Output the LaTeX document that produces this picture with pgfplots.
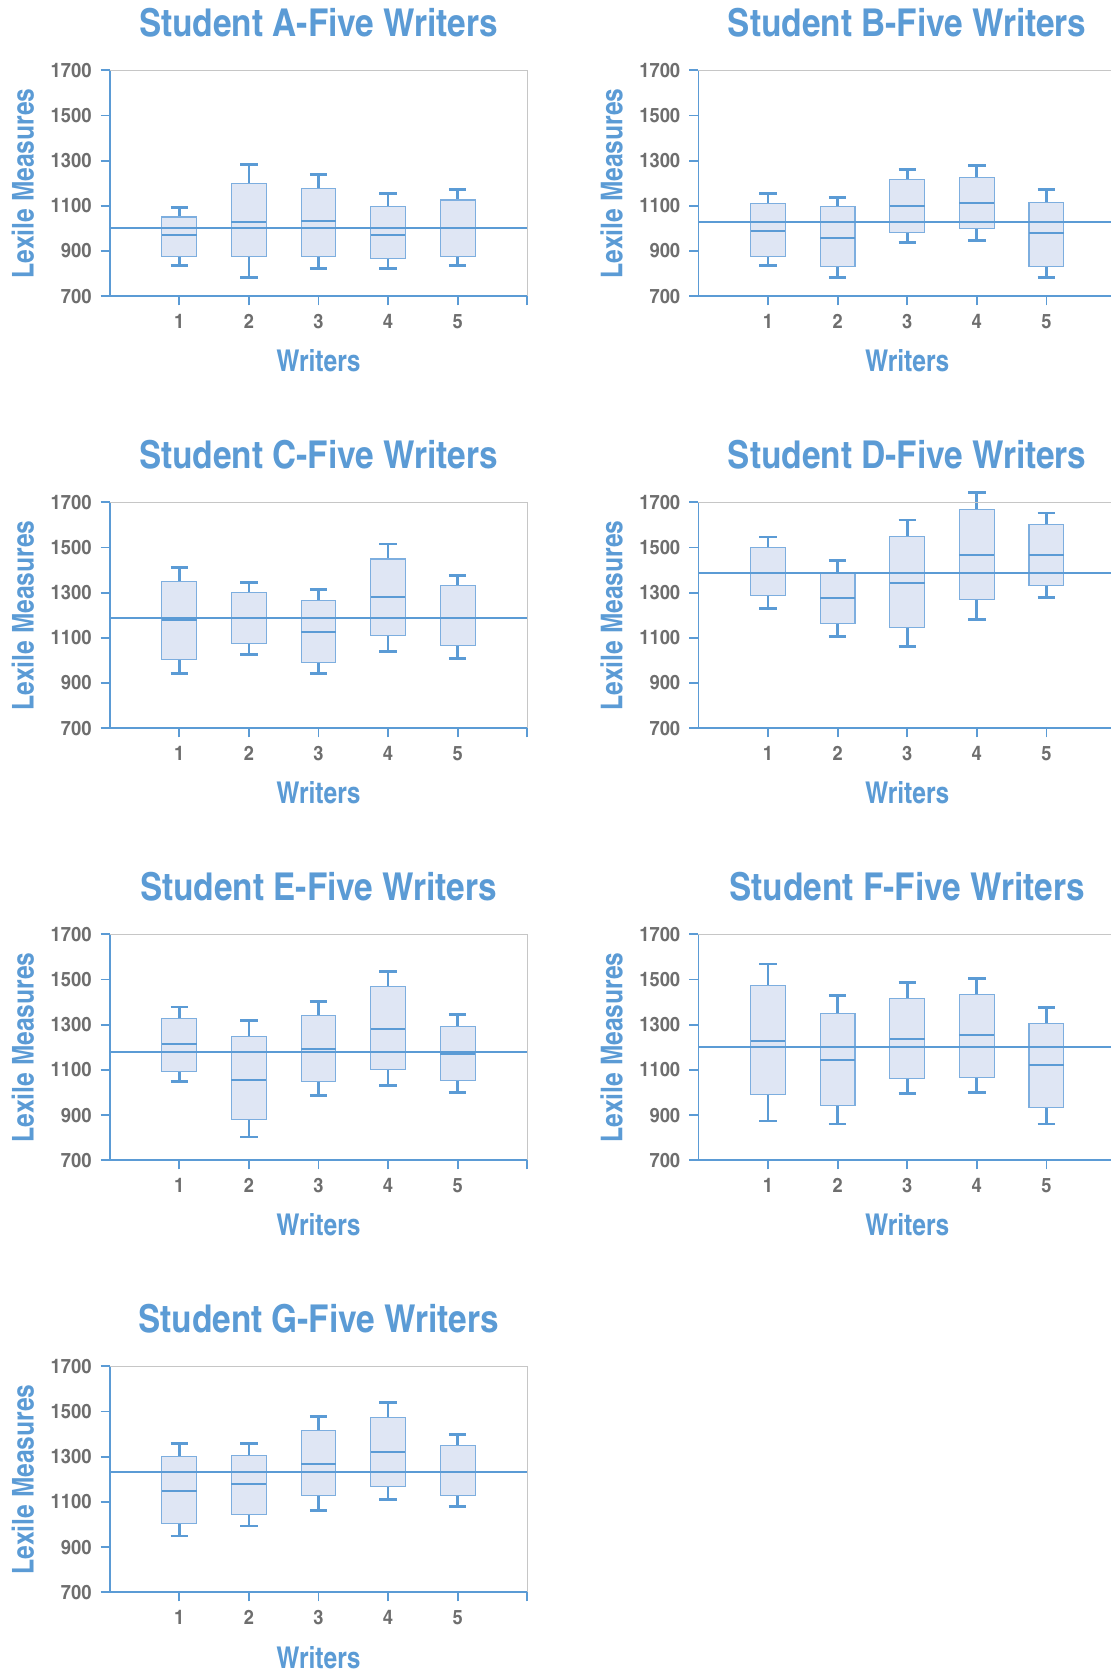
\documentclass[border=0pt]{standalone}
\usepackage{pgfplots}
\pgfplotsset{compat=1.18}
\usepackage{pgfplotstable}
\usepackage{fontspec}
\setmainfont{texgyreheroscn}[Extension=.otf, UprightFont=*-regular, BoldFont=*-bold, ItalicFont=*-italic, BoldItalicFont=*-bolditalic]
\newfontfamily\titlefont{texgyreheroscn}[Extension=.otf, UprightFont=*-bold, FakeStretch=1.06]
\newfontfamily\tickfont{texgyreheroscn}[Extension=.otf, UprightFont=*-bold, FakeStretch=1.12]
\newfontfamily\labelfont{texgyreheroscn}[Extension=.otf, UprightFont=*-bold]

\definecolor{cblue}{HTML}{5B9BD5}
\definecolor{cedge}{HTML}{7DAEDF}
\definecolor{cfill}{HTML}{DFE6F4}
\definecolor{cgray}{HTML}{6E6E6E}
\definecolor{cframe}{HTML}{C6C6C6}

% columns: lower whisker, lower quartile, median, upper quartile, upper whisker
\pgfplotstableread{
lw lq med uq uw
836 878 973 1051 1092
783 878 1030 1200 1284
822 878 1032 1175 1240
822 867 973 1097 1156
836 878 1001 1126 1172
}\tA
\pgfplotstableread{
lw lq med uq uw
836 878 989 1109 1154
783 830 960 1097 1137
937 982 1098 1215 1260
946 1001 1111 1227 1278
783 830 982 1113 1172
}\tB
\pgfplotstableread{
lw lq med uq uw
943 1006 1178 1350 1412
1026 1076 1188 1299 1344
943 990 1128 1266 1313
1041 1110 1281 1449 1516
1009 1066 1188 1331 1376
}\tC
\pgfplotstableread{
lw lq med uq uw
1229 1287 1387 1499 1547
1106 1162 1276 1388 1441
1062 1146 1341 1549 1622
1181 1268 1468 1669 1743
1278 1332 1468 1601 1653
}\tD
\pgfplotstableread{
lw lq med uq uw
1050 1094 1213 1326 1378
803 882 1057 1247 1319
988 1050 1194 1341 1403
1032 1100 1279 1468 1535
1001 1054 1171 1293 1346
}\tE
\pgfplotstableread{
lw lq med uq uw
874 991 1228 1472 1569
860 943 1144 1349 1429
997 1063 1238 1416 1487
1001 1068 1256 1432 1504
860 932 1121 1306 1376
}\tF
\pgfplotstableread{
lw lq med uq uw
949 1003 1147 1300 1359
993 1043 1179 1304 1357
1063 1129 1269 1415 1478
1112 1169 1319 1474 1540
1081 1129 1232 1350 1399
}\tG

\pgfplotsset{
  whisk/.style={draw=cblue, line width=1.35pt, mark=none, forget plot},
  boxs/.style={draw=cedge, fill=cfill, line width=0.55pt, mark=none, forget plot},
  medl/.style={draw=cblue, line width=1pt, mark=none, forget plot},
  panel/.style={
    width=208.8pt, height=113pt, scale only axis,
    xmin=0, xmax=6, ymin=700, ymax=1700,
    xtick={1,2,3,4,5,6}, xticklabels={1,2,3,4,5,{}},
    ytick={700,900,1100,1300,1500,1700},
    axis x line*=bottom, axis y line*=left,
    axis line style={-, draw=cblue, line width=0.9pt},
    x axis line style={-}, y axis line style={-},
    tick style={draw=cblue, line width=0.9pt},
    tick align=outside, major tick length=4.5pt,
    minor tick num=0,
    ticklabel style={font=\tickfont\fontsize{10}{12}\selectfont, text=cgray},
    xticklabel style={anchor=north, inner sep=0pt, yshift=-4.2pt},
    yticklabel style={anchor=east, inner sep=0pt, xshift=-4.4pt},
    /pgf/number format/assume math mode=true,
    /pgf/number format/1000 sep={},
    clip=false,
    xlabel={Writers}, ylabel={Lexile Measures},
    label style={font=\labelfont\fontsize{15}{17}\selectfont, text=cblue},
    title style={font=\titlefont\fontsize{19.2}{22}\selectfont, text=cblue,
      at={(axis description cs:0.5,1)}, anchor=base, yshift=10.65pt},
    xlabel style={at={(axis description cs:0.5,0)}, anchor=base, yshift=-37.85pt},
    ylabel style={at={(axis description cs:0,0.5)}, anchor=base, yshift=38pt},
    after end axis/.code={\draw[cframe, line width=0.55pt] (rel axis cs:0,1) -- (rel axis cs:1,1) -- (rel axis cs:1,0);},
  }
}

% one box: table, row, draw position
\newcommand{\bx}[3]{%
  \pgfplotstablegetelem{#2}{lw}\of#1\let\vlw\pgfplotsretval
  \pgfplotstablegetelem{#2}{lq}\of#1\let\vlq\pgfplotsretval
  \pgfplotstablegetelem{#2}{med}\of#1\let\vmed\pgfplotsretval
  \pgfplotstablegetelem{#2}{uq}\of#1\let\vuq\pgfplotsretval
  \pgfplotstablegetelem{#2}{uw}\of#1\let\vuw\pgfplotsretval
  \pgfmathsetmacro\boxl{#3-0.25}\pgfmathsetmacro\boxr{#3+0.25}%
  \pgfmathsetmacro\capl{#3-0.125}\pgfmathsetmacro\capr{#3+0.125}%
  \edef\tmpplot{%
    \noexpand\addplot[whisk] coordinates {(#3,\vlw) (#3,\vlq)};
    \noexpand\addplot[whisk] coordinates {(#3,\vuq) (#3,\vuw)};
    \noexpand\addplot[whisk] coordinates {(\capl,\vlw) (\capr,\vlw)};
    \noexpand\addplot[whisk] coordinates {(\capl,\vuw) (\capr,\vuw)};
    \noexpand\addplot[boxs] coordinates {(\boxl,\vlq) (\boxr,\vlq) (\boxr,\vuq) (\boxl,\vuq)} -- cycle;
    \noexpand\addplot[medl] coordinates {(\boxl,\vmed) (\boxr,\vmed)};
  }%
  \tmpplot}

\newcommand{\panel}[5]{%
\begin{axis}[panel, at={(#1,#2)}, anchor=south west, title={Student #3-Five Writers}]
\bx{#4}{0}{1}
\bx{#4}{1}{2}
\bx{#4}{2}{3}
\bx{#4}{3}{4}
\bx{#4}{4}{5}
\addplot[cblue, line width=1pt, mark=none] coordinates {(0,#5) (6,#5)};
\end{axis}}

\begin{document}
\begin{tikzpicture}
\panel{54.85pt}{686.35pt}{A}{\tA}{1001}
\panel{349.2pt}{686.35pt}{B}{\tB}{1029}
\panel{54.85pt}{470.35pt}{C}{\tC}{1188}
\panel{349.2pt}{470.35pt}{D}{\tD}{1387}
\panel{54.85pt}{254.35pt}{E}{\tE}{1178}
\panel{349.2pt}{254.35pt}{F}{\tF}{1200}
\panel{54.85pt}{38.35pt}{G}{\tG}{1232}
\pgfresetboundingbox
\path[use as bounding box] (0,0) rectangle (555pt,834.5pt);
\end{tikzpicture}
\end{document}
